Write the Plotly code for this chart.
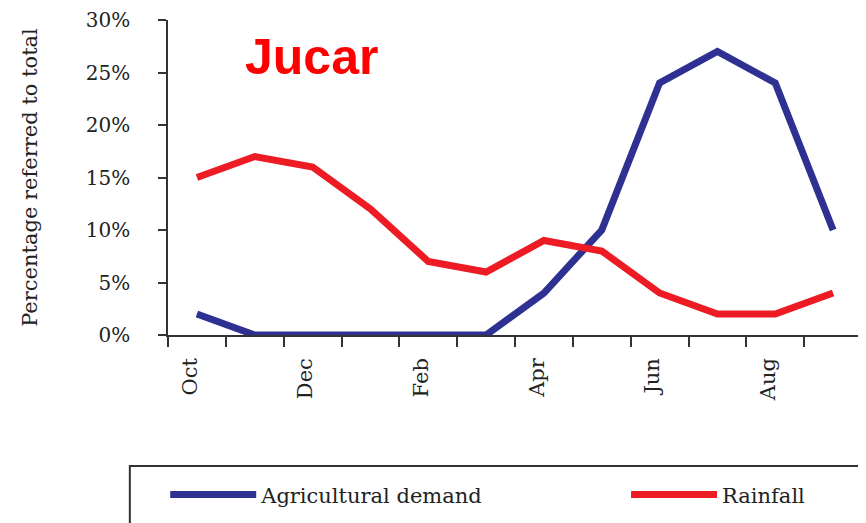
import plotly.graph_objects as go

months = ['Oct', 'Nov', 'Dec', 'Jan', 'Feb', 'Mar',
          'Apr', 'May', 'Jun', 'Jul', 'Aug', 'Sep']
agricultural_demand = [2, 0, 0, 0, 0, 0, 4, 10, 24, 27, 24, 10]
rainfall = [15, 17, 16, 12, 7, 6, 9, 8, 4, 2, 2, 4]
y_ticks = [0, 5, 10, 15, 20, 25, 30]

x = list(range(len(months)))
shown = x[::2]
serif = 'DejaVu Serif'
ink = '#222'

fig = go.Figure()

fig.add_trace(go.Scatter(
    x = x,
    y = agricultural_demand,
    mode = 'lines',
    name = 'Agricultural demand',
    legend = 'legend',
    line = {'color': '#2E3192', 'width': 7}
))

fig.add_trace(go.Scatter(
    x = x,
    y = rainfall,
    mode = 'lines',
    name = 'Rainfall',
    legend = 'legend2',
    line = {'color': '#ED1C24', 'width': 7}
))

legend_style = {
    'orientation': 'h',
    'y': -0.442,
    'xanchor': 'left',
    'yanchor': 'top',
    'itemwidth': 86,
    'font': {'family': serif, 'size': 21, 'color': ink},
    'bgcolor': 'rgba(0,0,0,0)'
}

# the page body has an 8px margin, so the figure is offset by 8px
fig.update_layout(
    width = 866,
    height = 523,
    plot_bgcolor = 'white',
    paper_bgcolor = 'white',
    margin = {'l': 160, 'r': 12, 't': 12, 'b': 196},
    font = {'family': serif, 'color': ink, 'size': 20},
    showlegend = True,
    legend = dict(legend_style, x = -0.004),
    legend2 = dict(legend_style, x = 0.66),
    shapes = [{
        'type': 'rect',
        'xref': 'paper',
        'yref': 'paper',
        'x0': -0.055,
        'x1': 0.9986,
        'y0': -0.75,
        'y1': -0.416,
        'line': {'color': '#333', 'width': 2}
    }],
    annotations = [{
        'text': '<b>Jucar</b>',
        'xref': 'paper',
        'yref': 'paper',
        'x': 0.108,
        'y': 0.884,
        'xanchor': 'left',
        'yanchor': 'middle',
        'showarrow': False,
        'font': {'family': 'Liberation Sans', 'size': 50, 'color': '#FF0000'}
    }]
)

fig.update_xaxes(
    automargin = False,
    range = [-0.5, len(months) - 0.5],
    tickvals = shown,
    ticktext = [months[i] for i in shown],
    tickangle = -90,
    ticks = '',
    ticklabelstandoff = 13,
    ticklabelshift = -7,
    tickfont = {'size': 21},
    showgrid = False,
    zeroline = False,
    showline = True,
    linecolor = '#333',
    linewidth = 1.5,
    minor = {
        'ticks': 'outside',
        'tick0': -0.5,
        'dtick': 1,
        'ticklen': 10,
        'tickwidth': 1.5,
        'tickcolor': '#333',
        'showgrid': False
    }
)

fig.update_yaxes(
    automargin = False,
    range = [0, 30],
    tickvals = y_ticks,
    ticktext = [f'{v}%' for v in y_ticks],
    ticks = 'outside',
    ticklen = 8,
    tickwidth = 1.5,
    tickcolor = '#333',
    ticklabelstandoff = 24,
    ticklabeloverflow = 'allow',
    tickfont = {'size': 20},
    showgrid = False,
    zeroline = False,
    showline = True,
    linecolor = '#333',
    linewidth = 1.5,
    title = {'text': 'Percentage referred to total', 'font': {'size': 21}, 'standoff': 42}
)

fig.write_html('out.html')
